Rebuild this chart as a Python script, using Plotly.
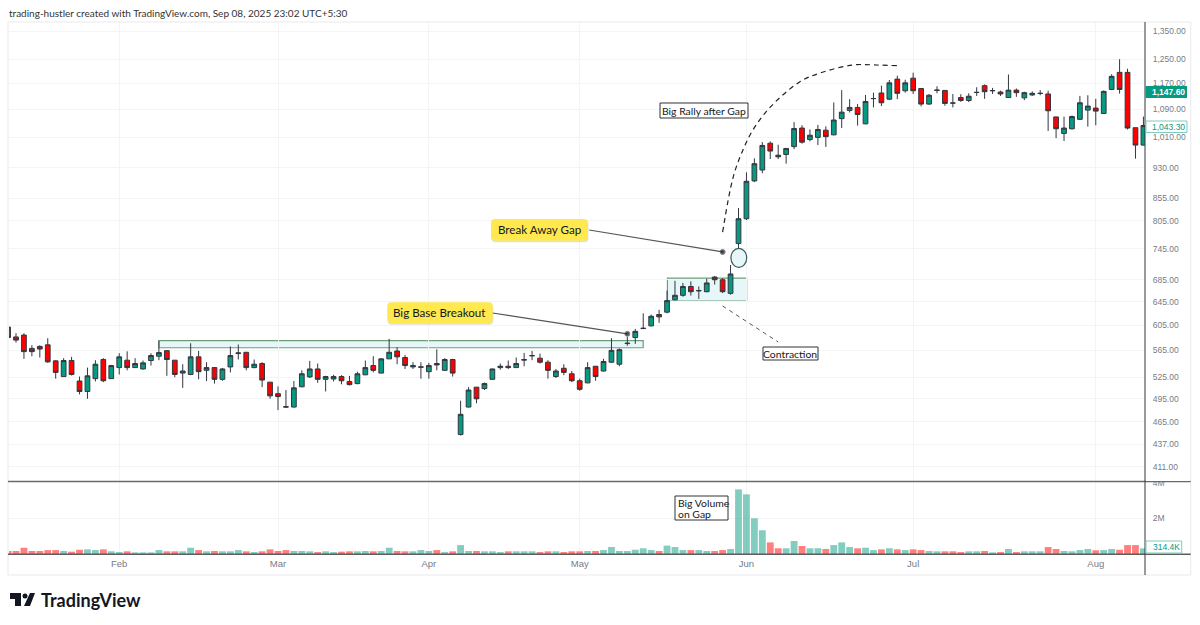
import plotly.graph_objects as go
from plotly.subplots import make_subplots

W, H = 1200, 625

opens = [602, 586, 589, 568, 571, 573.5, 549, 526, 549.5, 519.6,
         505, 523, 551, 523, 539, 550, 539, 537, 549.5, 556,
         564.5, 550, 531, 529, 555, 535, 539, 522, 540, 560,
         562, 539, 545, 518, 502, 484.5, 484, 511.5, 525.5, 537,
         522, 522.5, 526, 519, 516, 528.5, 542, 531, 552, 564,
         554, 540, 539.5, 533, 545, 535, 551, 449, 484, 511,
         509, 522, 539, 541, 539, 550, 556.5, 553, 547, 526,
         538, 530, 520, 517, 541, 534, 547, 544, 575.5, 585,
         599.5, 604, 623, 627, 648.5, 656.5, 672.5, 664.5, 663, 690,
         685, 660, 756, 809, 897, 924, 994, 962, 964, 985,
         1036, 1004, 1010, 1030, 1017, 1063, 1087, 1096, 1048, 1122.5,
         1140, 1121, 1184, 1147, 1187, 1154, 1106, 1148, 1148, 1109.5,
         1126, 1117, 1141.5, 1163, 1147, 1143, 1126, 1149, 1125, 1134,
         1138.5, 1137, 1068, 1021, 1034, 1061, 1088, 1094, 1078, 1151,
         1206, 1206, 1037, 989]
highs = [604, 592, 592, 573, 573, 584, 550, 553, 555, 526,
         539, 550, 553, 543, 560.5, 563.5, 553, 549.5, 560.5, 580,
         565, 550, 544, 576, 564, 547, 539, 538.5, 571, 574,
         562, 551, 547, 518, 512, 507, 519.6, 535, 549, 545,
         527, 528.5, 528, 527, 533, 549.5, 556, 553, 583, 570,
         558, 547, 547, 546, 566.5, 553, 552, 492.5, 511, 511,
         517.5, 537.5, 545, 549.5, 554, 561, 564, 560, 550, 537,
         544, 534, 523, 547, 541, 552, 584, 568, 586, 599,
         625, 623, 631, 665, 683, 679, 682, 672.5, 687, 692,
         688, 713, 833, 918, 954, 997, 999, 990, 980, 1053,
         1044, 1032, 1045, 1041, 1111, 1149, 1121, 1106, 1134, 1141,
         1163, 1181, 1195, 1182, 1205, 1154, 1137, 1161, 1149, 1137,
         1136, 1139, 1158, 1167, 1156, 1147, 1199, 1154, 1144, 1145,
         1149, 1147, 1068, 1069, 1072, 1131, 1133, 1122, 1148, 1200,
         1250, 1218, 1037, 1069]
lows = [585, 577, 552, 556, 554, 546, 523, 526, 527.5, 501,
        495, 519, 518, 522.5, 529, 535, 539, 536, 542, 550,
        527, 525, 510, 528, 522, 519.5, 516, 520, 532, 551,
        535, 538, 511, 495, 480, 483, 483.5, 511, 524, 517,
        505, 519, 515, 513.5, 515, 528, 532, 531, 552, 544,
        537, 537, 523, 523, 535, 534.5, 526, 448, 483.5, 489,
        507, 521.5, 536, 537, 539, 541, 550, 545, 523, 524,
        528, 518, 506, 516.5, 520, 533.5, 546, 541, 572, 575,
        599, 603, 609, 625, 647.5, 654, 656, 650, 662, 676,
        660.5, 657.7, 747, 806, 894, 916, 952, 952, 940, 978,
        993, 999, 989, 984, 1016, 1036, 1081, 1043, 1047, 1096,
        1100, 1118, 1121, 1141, 1137, 1099, 1104, 1139, 1101, 1096,
        1113, 1112, 1131, 1122, 1137, 1131, 1125, 1128, 1118, 1131,
        1133, 1028, 1008, 1000, 1032, 1059, 1040, 1044, 1077, 1149,
        1138, 1032, 953, 988]
closes = [585, 581, 563, 563, 567, 547.5, 532, 549.5, 529, 505,
          527, 544, 520, 542, 555, 539, 545, 546, 557, 561.5,
          551, 529, 534, 555, 533, 539, 522, 537, 557, 561,
          539, 544, 521, 499, 498, 484, 510, 530, 537, 522,
          526, 526, 520, 514.5, 530, 539, 535, 552, 562, 555,
          542, 542, 540, 542, 543, 551, 531, 474.5, 507, 495,
          516, 537, 541, 539, 545, 551, 557, 547, 535, 534,
          532, 520, 508, 539, 526, 548, 565, 566, 576, 595,
          600, 620, 619, 647, 656.5, 672.5, 663, 665, 679, 685,
          663, 695.8, 809, 896, 940, 988, 973, 958, 980, 1034.5,
          997, 1016, 1032, 1012, 1059, 1082, 1096, 1075, 1114, 1123,
          1110, 1172, 1139, 1172, 1147, 1106, 1133, 1149, 1108, 1109,
          1117, 1130, 1142, 1144, 1147.5, 1137, 1149, 1141, 1141, 1139,
          1139, 1086, 1034, 1036, 1069, 1110, 1100, 1085, 1145, 1193,
          1151, 1036, 989, 1043.3]
volumes = [.17, .17, .35, .17, .17, .22, .22, .17, .13, .24,
           .26, .22, .26, .15, .11, .15, .09, .09, .09, .22,
           .15, .15, .15, .35, .22, .15, .17, .15, .15, .22,
           .15, .11, .15, .26, .17, .22, .17, .17, .15, .11,
           .15, .11, .13, .15, .15, .17, .15, .17, .35, .17,
           .15, .15, .22, .17, .22, .11, .15, .50, .17, .17,
           .15, .15, .11, .15, .15, .15, .15, .11, .15, .15,
           .11, .15, .15, .17, .17, .22, .39, .17, .17, .24,
           .32, .22, .17, .47, .39, .22, .22, .22, .17, .17,
           .22, .28, 3.62, 3.34, 2.0, 1.33, .65, .32, .32, .73,
           .45, .32, .32, .28, .50, .65, .39, .32, .35, .22,
           .26, .32, .26, .22, .26, .22, .17, .15, .15, .15,
           .11, .15, .15, .17, .09, .11, .28, .11, .15, .15,
           .15, .39, .28, .17, .15, .22, .28, .205, .22, .28,
           .24, .50, .50, .3144]

month_bars = [14, 34, 53, 72, 93, 114, 137]
month_labels = ["Feb", "Mar", "Apr", "May", "Jun", "Jul", "Aug"]
price_ticks = [1350, 1250, 1170, 1090, 1010, 930, 855, 805, 745, 685, 645, 605, 565, 525, 495, 465, 437, 411]

# hand drawn bits on the chart: bar number and price
rally_bars = [90, 91.3, 92.4, 93.8, 96, 99.7, 102.3, 106.4, 109.4, 112]
rally_prices = [780, 904, 968, 1030, 1097, 1175, 1204, 1230.5, 1230.5, 1228]
gap_line_bars = [73.2, 90]
gap_line_prices = [784.5, 739]
base_line_bars = [61, 78]
base_line_prices = [625.6, 591]
contraction_bars = [90, 97]
contraction_prices = [637.6, 578]

GREEN = "#089981"
RED = "#ff0000"
WICK = "#33363f"
TEXT = "#787b86"
FONT = "Lato"
AXIS_FONT = "Liberation Sans"
bars = list(range(len(closes)))
vol_colors = ["rgba(8,153,129,0.5)" if c >= o else "rgba(255,0,0,0.5)" for o, c in zip(opens, closes)]


def px(x):
    return x / W


def py(y):
    return 1 - y / H


fig = make_subplots(rows=2, cols=1, shared_xaxes=True)

fig.add_trace(
    go.Candlestick(
        x=bars,
        open=opens,
        high=highs,
        low=lows,
        close=closes,
        increasing=dict(fillcolor=GREEN, line=dict(color=WICK, width=1)),
        decreasing=dict(fillcolor=RED, line=dict(color=WICK, width=1)),
        whiskerwidth=0,
    ),
    row=1,
    col=1,
)
fig.add_trace(go.Bar(x=bars, y=volumes, marker=dict(color=vol_colors, line=dict(width=0)), width=0.86), row=2, col=1)

fig.add_trace(
    go.Scatter(
        x=rally_bars,
        y=rally_prices,
        mode="lines",
        line=dict(color="#222222", width=1.2, dash="5px,4px", shape="spline"),
    ),
    row=1,
    col=1,
)
fig.add_trace(
    go.Scatter(
        x=contraction_bars,
        y=contraction_prices,
        mode="lines",
        line=dict(color="#555555", width=1, dash="4px,4px"),
    ),
    row=1,
    col=1,
)
for lx, ly in [(gap_line_bars, gap_line_prices), (base_line_bars, base_line_prices)]:
    fig.add_trace(
        go.Scatter(
            x=lx,
            y=ly,
            mode="lines+markers",
            line=dict(color="#555555", width=1.2),
            marker=dict(size=[0, 5], color="#111111"),
        ),
        row=1,
        col=1,
    )

# base and contraction zones, gap circle
zone = dict(type="rect", layer="below", fillcolor="#e6f6f9", line=dict(color="#6f9f7a", width=1.2))
fig.add_shape(x0=19, x1=80, y0=569, y1=580, xref="x", yref="y", **zone)
fig.add_shape(x0=83.05, x1=93.03, y0=646, y1=688, xref="x", yref="y", **zone)
fig.add_shape(
    type="circle",
    x0=91.05,
    x1=93.03,
    y0=708.6,
    y1=746,
    xref="x",
    yref="y",
    fillcolor="#e6f6f9",
    line=dict(color="#3a5a5a", width=1.2),
)


def paper_rect(x0, y0, x1, y1, **kw):
    fig.add_shape(type="rect", xref="paper", yref="paper", x0=px(x0), x1=px(x1), y0=py(y1), y1=py(y0), **kw)


def paper_line(x0, y0, x1, y1, color, width=1):
    fig.add_shape(
        type="line", xref="paper", yref="paper", x0=px(x0), x1=px(x1), y0=py(y0), y1=py(y1),
        line=dict(color=color, width=width),
    )


def rounded(x0, y0, x1, y1, r, **kw):
    a, b, c, d = px(x0), px(x1), py(y0), py(y1)
    rx, ry = r / W, r / H
    path = (
        f"M {a + rx} {c} L {b - rx} {c} Q {b} {c} {b} {c - ry} L {b} {d + ry} Q {b} {d} {b - rx} {d} "
        f"L {a + rx} {d} Q {a} {d} {a} {d + ry} L {a} {c - ry} Q {a} {c} {a + rx} {c} Z"
    )
    fig.add_shape(type="path", path=path, xref="paper", yref="paper", line=dict(width=0), **kw)


def label(x, y, text, size=11, color="#131722", anchor="center", weight=None, family=FONT):
    fig.add_annotation(
        x=px(x), y=py(y), xref="paper", yref="paper", text=text, showarrow=False,
        xanchor=anchor, yanchor="middle", align="left",
        font=dict(family=family, size=size, color=color, weight=weight),
    )


def boxed(x0, y0, x1, y1, text):
    paper_rect(x0, y0, x1, y1, fillcolor="white", line=dict(color="#333333", width=1))
    if text:
        label((x0 + x1) / 2, (y0 + y1) / 2 + 0.5, text, size=10.4)


def sticky(x0, y0, x1, y1, text):
    rounded(x0 + 0.5, y0 + 1.5, x1 + 0.5, y1 + 1.5, 4, fillcolor="rgba(0,0,0,0.12)")
    rounded(x0, y0, x1, y1, 4, fillcolor="#ffe94f")
    label((x0 + x1) / 2, (y0 + y1) / 2, text, size=11.6)


# frame and pane separators
paper_rect(8, 22, 1190.7, 575, line=dict(color="#e9e9ec", width=1), fillcolor="rgba(0,0,0,0)")
paper_line(8, 481.5, 1190.7, 481.5, "#6a6a6a", 1.5)
paper_line(8, 554.3, 1190.7, 554.3, "#5d5d5d", 1.5)
paper_line(1145, 22, 1145, 575, "#33363f", 1)
paper_rect(1146, 470, 1190, 481, fillcolor="white", line=dict(width=0))

boxed(660, 103, 748, 118, "Big Rally after Gap")
boxed(763, 347, 818, 360, "Contraction")
boxed(675, 496, 728, 520, "")
label(675.5, 503, "Big Volume", size=10.4, anchor="left")
label(675.5, 513.5, "on Gap", size=10.4, anchor="left")
sticky(491, 219, 588, 240.7, "Break Away Gap")
sticky(387.3, 302.3, 492.7, 323.3, "Big Base Breakout")

# last price tags
paper_rect(1145.5, 86, 1187, 98, fillcolor=GREEN, line=dict(width=0))
label(1168, 92, "1,147.60", size=8.5, color="white", weight=700, family=AXIS_FONT)
paper_rect(1146, 121, 1187, 132.5, fillcolor="white", line=dict(color="#7fcbbd", width=1))
label(1168, 127, "1,043.30", size=8.5, color=GREEN, family=AXIS_FONT)
paper_rect(1146, 541, 1181.7, 553, fillcolor="white", line=dict(color="#7fcbbd", width=1))
label(1166, 547, "314.4K", size=8.5, color=GREEN, family=AXIS_FONT)

label(7, 13, "trading-hustler created with TradingView.com, Sep 08, 2025 23:02 UTC+5:30", size=10, color="#333333", anchor="left")
label(38.5, 600, "TradingView", size=18, color="#131722", anchor="left", weight=700)


# logo
def logo_path(points):
    return "M " + " L ".join(f"{px(x)} {py(y)}" for x, y in points) + " Z"


for pts in [
    [(10, 593), (21, 593), (21, 606), (15, 606), (15, 599), (10, 599)],
    [(30, 593), (35, 593), (30, 606), (24, 606)],
]:
    fig.add_shape(type="path", path=logo_path(pts), xref="paper", yref="paper", fillcolor="#131722", line=dict(width=0))
fig.add_shape(
    type="circle", xref="paper", yref="paper", x0=px(22.5), x1=px(27.5), y0=py(598.5), y1=py(593.5),
    fillcolor="#131722", line=dict(width=0),
)

fig.update_layout(
    width=W,
    height=H,
    margin=dict(l=0, r=0, t=0, b=0, autoexpand=False),
    paper_bgcolor="white",
    plot_bgcolor="white",
    showlegend=False,
    boxgap=0.15,
    font=dict(family=AXIS_FONT, size=8.5, color=TEXT),
    xaxis=dict(
        domain=[px(9), px(1145)],
        range=[0.118, 143.2],
        rangeslider=dict(visible=False),
        showgrid=True,
        gridcolor="#f3f4f6",
        tickvals=month_bars,
        showticklabels=False,
        zeroline=False,
    ),
    xaxis2=dict(
        domain=[px(9), px(1145)],
        range=[0.118, 143.2],
        showgrid=True,
        gridcolor="#f3f4f6",
        tickvals=month_bars,
        ticktext=month_labels,
        tickfont=dict(size=9.5),
        zeroline=False,
        ticks="outside",
        ticklen=1,
        tickcolor="rgba(0,0,0,0)",
    ),
    yaxis=dict(
        type="log",
        domain=[py(481), py(22)],
        range=[2.59724, 3.14101],
        side="right",
        tickvals=price_ticks,
        ticktext=[f"{v:,.2f}" for v in price_ticks],
        showgrid=True,
        gridcolor="#f3f4f6",
        zeroline=False,
        ticks="outside",
        ticklen=5,
        tickcolor="rgba(0,0,0,0)",
    ),
    yaxis2=dict(
        domain=[py(554), py(482)],
        range=[0, 4.034],
        side="right",
        tickvals=[2, 4],
        ticktext=["2M", "4M"],
        showgrid=True,
        gridcolor="#f3f4f6",
        zeroline=False,
        ticks="outside",
        ticklen=5,
        tickcolor="rgba(0,0,0,0)",
    ),
)

fig.write_html("out.html", config=dict(displayModeBar=False), post_script="document.body.style.margin='0';")
